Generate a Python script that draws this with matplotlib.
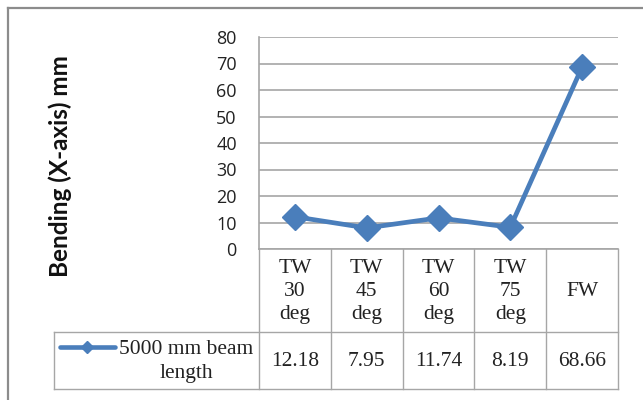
import matplotlib
matplotlib.use("Agg")
import matplotlib.pyplot as plt
from matplotlib.lines import Line2D
import numpy as np

# chart data
categories = ["TW\n30\ndeg", "TW\n45\ndeg", "TW\n60\ndeg", "TW\n75\ndeg", "FW"]
bending = [12.18, 7.95, 11.74, 8.19, 68.66]
value_labels = ["12.18", "7.95", "11.74", "8.19", "68.66"]
series_name = "5000 mm beam\nlength"
y_ticks = [0, 10, 20, 30, 40, 50, 60, 70, 80]

W, H = 643, 400
BLUE = "#4a7ebb"
GRID = "#a6a6a6"

# plot area in pixels (left, top, right, zero line)
px_left, px_top, px_right, px_zero = 259, 37, 618, 249
# table rows in pixels
row1_bottom, row2_bottom, legend_left = 332, 389, 54

fig = plt.figure(figsize=(W / 100, H / 100), dpi=100)
fig.patch.set_facecolor("white")

ax = fig.add_axes([px_left / W, 1 - px_zero / H,
                   (px_right - px_left) / W, (px_zero - px_top) / H])
n = len(categories)
x = np.arange(n)
ax.set_xlim(-0.5, n - 0.5)
ax.set_ylim(0, 80)
ax.set_yticks(y_ticks)
ax.set_yticklabels([str(t) for t in y_ticks], family="Open Sans", fontsize=13,
                   color="#222222")
ax.set_xticks([])
ax.tick_params(axis="y", length=0, pad=16)
ax.yaxis.grid(True, color=GRID, linewidth=1.2)
ax.set_axisbelow(True)
for side in ["top", "right"]:
    ax.spines[side].set_visible(False)
for side in ["left", "bottom"]:
    ax.spines[side].set_color(GRID)
    ax.spines[side].set_linewidth(1.2)

ax.plot(x, bending, color=BLUE, linewidth=3.4, marker="D", markersize=13,
        markerfacecolor=BLUE, markeredgecolor=BLUE, clip_on=False, zorder=3)

# y axis title
fig.text(60 / W, 1 - 166 / H, "Bending (X-axis) mm", rotation=90, ha="center",
         va="center", family="Lato", fontweight="bold", fontsize=17.5,
         color="#111111")

# data table drawn in pixel space
tab = fig.add_axes([0, 0, 1, 1], zorder=-1)
tab.set_xlim(0, W)
tab.set_ylim(H, 0)
tab.axis("off")
tab.patch.set_alpha(0)

col_w = (px_right - px_left) / n
edges = [px_left + i * col_w for i in range(n + 1)]

lkw = dict(color=GRID, linewidth=1.0)
tab.plot([legend_left, px_right], [row1_bottom, row1_bottom], **lkw)
tab.plot([legend_left, px_right], [row2_bottom, row2_bottom], **lkw)
tab.plot([legend_left, legend_left], [row1_bottom, row2_bottom], **lkw)
for e in edges:
    tab.plot([e, e], [px_zero, row2_bottom], **lkw)

serif = dict(family="Liberation Serif", fontsize=15.5, color="#222222",
             ha="center", va="center", linespacing=1.3)
for i, (cat, val) in enumerate(zip(categories, value_labels)):
    cx = edges[i] + col_w / 2
    tab.text(cx, (px_zero + row1_bottom) / 2 + 1, cat, **serif)
    tab.text(cx, (row1_bottom + row2_bottom) / 2 + 1, val, **serif)

# legend key inside the table
tab.plot([60, 115], [347, 347], color=BLUE, linewidth=3.3, solid_capstyle="round")
tab.plot([87], [347], marker="D", markersize=6, color=BLUE)
tab.text(186, (row1_bottom + row2_bottom) / 2 + 1, series_name, **serif)

# outer chart frame
fig.add_artist(Line2D([8 / W, 1], [1 - 8 / H, 1 - 8 / H], color="#8c8c8c",
                      linewidth=1.6))
fig.add_artist(Line2D([8 / W, 8 / W], [0, 1 - 8 / H], color="#8c8c8c",
                      linewidth=1.6))

fig.savefig("out.png", dpi=100)
